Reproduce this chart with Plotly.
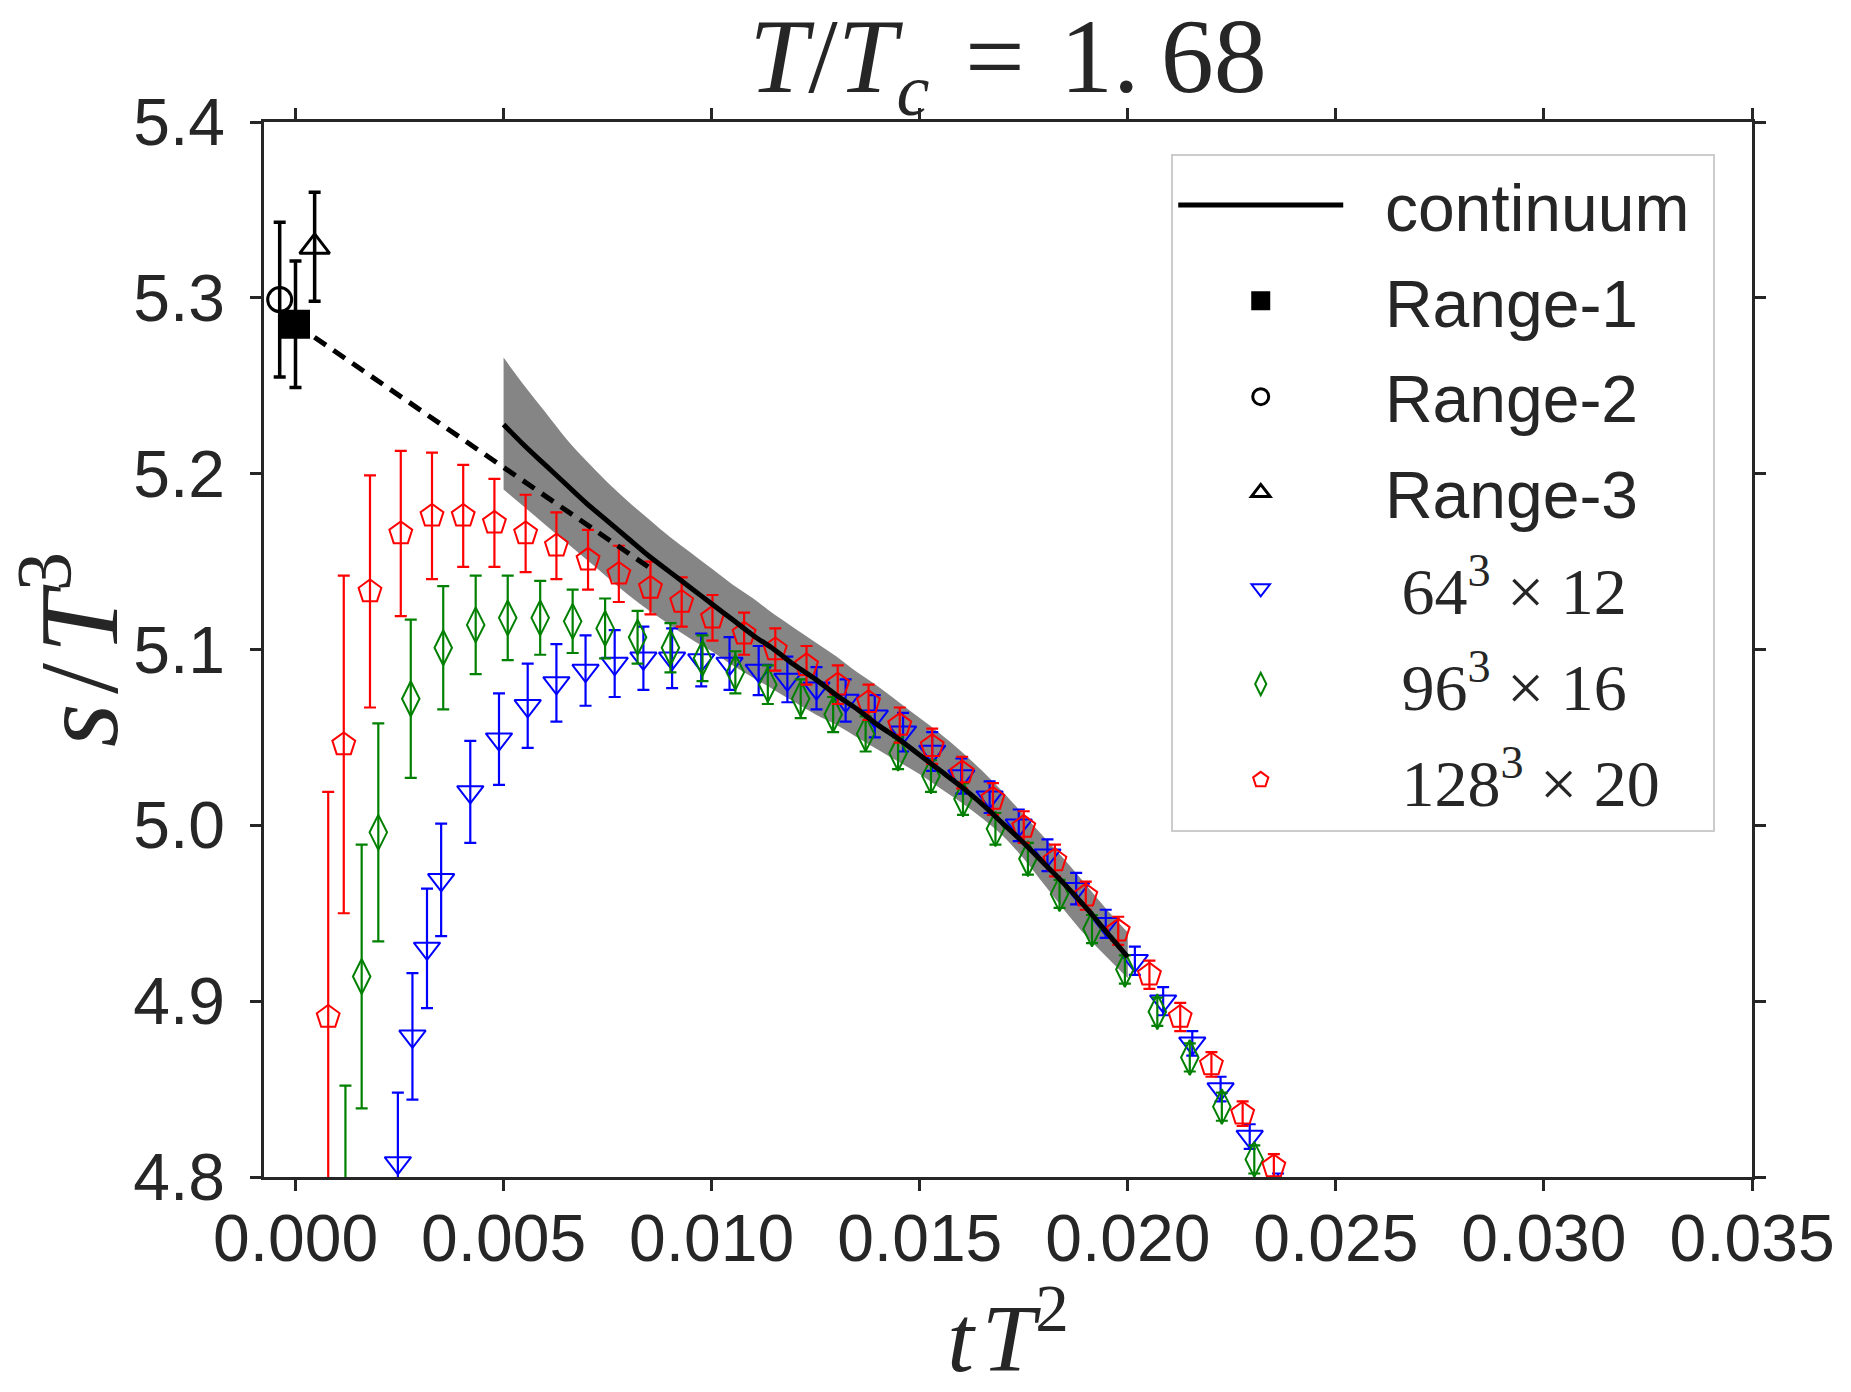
import plotly.graph_objects as go

# ---------------- data ----------------
# continuum-extrapolated t->0 results
range1_x = [0.0]
range1_y = [5.285]
range1_err = [0.036]
range2_x = [-0.00038]
range2_y = [5.299]
range2_err = [0.044]
range3_x = [0.00046]
range3_y = [5.329]
range3_err = [0.031]

# linear small-t extrapolation (dashed)
extrap_x = [0.0, 0.0086]
extrap_y = [5.285, 5.145]

# continuum curve and its error band
cont_x = [0.0050, 0.0055, 0.0060, 0.0065, 0.0070, 0.0075, 0.0080, 0.0085,
          0.0090, 0.0095, 0.0100, 0.0105, 0.0110, 0.0115, 0.0120, 0.0125,
          0.0130, 0.0135, 0.0140, 0.0145, 0.0150, 0.0155, 0.0160, 0.0165,
          0.0170, 0.0175, 0.0180, 0.0185, 0.0190, 0.0195, 0.0200]
cont_y = [5.228, 5.216, 5.205, 5.194, 5.183, 5.173, 5.163, 5.153,
          5.144, 5.135, 5.126, 5.117, 5.108, 5.100, 5.091, 5.083,
          5.074, 5.066, 5.057, 5.049, 5.040, 5.031, 5.022, 5.012,
          5.001, 4.990, 4.978, 4.966, 4.953, 4.939, 4.925]
cont_upper = [5.266, 5.250, 5.235, 5.220, 5.207, 5.195, 5.184, 5.174,
              5.164, 5.155, 5.146, 5.137, 5.129, 5.120, 5.112, 5.104,
              5.096, 5.087, 5.079, 5.070, 5.061, 5.052, 5.042, 5.031,
              5.019, 5.006, 4.993, 4.980, 4.966, 4.952, 4.939]
cont_lower = [5.191, 5.181, 5.171, 5.161, 5.151, 5.141, 5.131, 5.122,
              5.114, 5.106, 5.099, 5.091, 5.084, 5.077, 5.070, 5.063,
              5.057, 5.050, 5.043, 5.036, 5.029, 5.021, 5.013, 5.004,
              4.994, 4.981, 4.966, 4.951, 4.937, 4.925, 4.913]

# 64^3 x 12
n12_x = [0.00246, 0.00281, 0.00316, 0.00350, 0.00420, 0.00489, 0.00558, 0.00627,
         0.00697, 0.00767, 0.00836, 0.00905, 0.00975, 0.01043, 0.01113, 0.01182,
         0.01252, 0.01322, 0.01392, 0.01460, 0.01530, 0.01600, 0.01668, 0.01738,
         0.01807, 0.01876, 0.01947, 0.02017, 0.02085, 0.02155, 0.02223, 0.02293,
         0.02361]
n12_y = [4.808, 4.880, 4.930, 4.969, 5.019, 5.049, 5.068, 5.081,
         5.088, 5.092, 5.095, 5.095, 5.094, 5.092, 5.088, 5.083,
         5.078, 5.071, 5.062, 5.053, 5.042, 5.028, 5.016, 5.000,
         4.983, 4.964, 4.944, 4.923, 4.900, 4.876, 4.850, 4.823,
         4.795]
n12_err = [0.040, 0.036, 0.034, 0.032, 0.029, 0.026, 0.024, 0.022,
           0.020, 0.019, 0.018, 0.017, 0.015, 0.015, 0.014, 0.013,
           0.012, 0.012, 0.012, 0.011, 0.011, 0.010, 0.009, 0.009,
           0.009, 0.009, 0.008, 0.008, 0.008, 0.007, 0.007, 0.007,
           0.007]

# 96^3 x 16
n16_x = [0.00120, 0.00159, 0.00199, 0.00277, 0.00355, 0.00433, 0.00510, 0.00588,
         0.00666, 0.00744, 0.00822, 0.00901, 0.00978, 0.01057, 0.01135, 0.01214,
         0.01292, 0.01370, 0.01448, 0.01527, 0.01604, 0.01682, 0.01760, 0.01836,
         0.01914, 0.01993, 0.02071, 0.02149, 0.02226, 0.02304]
n16_y = [4.772, 4.914, 4.996, 5.072, 5.101, 5.114, 5.118, 5.118,
         5.116, 5.112, 5.107, 5.101, 5.095, 5.087, 5.080, 5.072,
         5.063, 5.052, 5.041, 5.028, 5.015, 4.998, 4.981, 4.961,
         4.941, 4.918, 4.894, 4.868, 4.840, 4.810]
n16_err = [0.080, 0.075, 0.062, 0.045, 0.035, 0.028, 0.024, 0.021,
           0.018, 0.017, 0.015, 0.014, 0.013, 0.012, 0.011, 0.011,
           0.010, 0.010, 0.009, 0.009, 0.009, 0.009, 0.009, 0.008,
           0.008, 0.008, 0.008, 0.008, 0.008, 0.008]

# 128^3 x 20
n20_x = [0.000786, 0.00116, 0.00179, 0.00253, 0.00328, 0.00403, 0.00478, 0.00553,
         0.00627, 0.00703, 0.00777, 0.00853, 0.00928, 0.01002, 0.01078, 0.01153,
         0.01228, 0.01303, 0.01377, 0.01452, 0.01530, 0.01602, 0.01676, 0.01750,
         0.01825, 0.01899, 0.01977, 0.02052, 0.02126, 0.02201, 0.02276, 0.02351]
n20_y = [4.891, 5.046, 5.133, 5.166, 5.176, 5.176, 5.172, 5.166,
         5.159, 5.151, 5.143, 5.135, 5.127, 5.118, 5.109, 5.100,
         5.091, 5.080, 5.070, 5.057, 5.045, 5.030, 5.015, 4.999,
         4.980, 4.960, 4.940, 4.915, 4.891, 4.864, 4.836, 4.806]
n20_err = [0.128, 0.096, 0.066, 0.047, 0.036, 0.029, 0.025, 0.022,
           0.019, 0.017, 0.016, 0.015, 0.014, 0.013, 0.012, 0.012,
           0.011, 0.011, 0.010, 0.010, 0.010, 0.009, 0.009, 0.009,
           0.009, 0.008, 0.008, 0.008, 0.008, 0.007, 0.007, 0.007]

x_ticks = [0.000, 0.005, 0.010, 0.015, 0.020, 0.025, 0.030, 0.035]
y_ticks = [4.8, 4.9, 5.0, 5.1, 5.2, 5.3, 5.4]

# ---------------- styling ----------------
INK = "#262626"
SANS = "Liberation Sans, Arial, sans-serif"
SERIF = "Liberation Serif, Times New Roman, serif"
PAD = "\u00a0\u00a0"


def serif(txt):
    return f"<span style=\"font-family:'Liberation Serif'\">{txt}</span>"


fig = go.Figure()

# error band of the continuum curve
fig.add_trace(go.Scatter(x=cont_x, y=cont_lower, mode="lines",
                         line=dict(width=0, color="#808080", shape="spline"),
                         showlegend=False, hoverinfo="skip"))
fig.add_trace(go.Scatter(x=cont_x, y=cont_upper, mode="lines",
                         line=dict(width=0, color="#808080", shape="spline"),
                         fill="tonexty", fillcolor="#858585",
                         showlegend=False, hoverinfo="skip"))


def lattice(x, y, err, color, symbol, size, name, rank):
    return go.Scatter(
        x=x, y=y, mode="markers", name=name, legendrank=rank,
        legendgroup=name,
        marker=dict(symbol=symbol, size=size, color=color,
                    line=dict(color=color, width=2)),
        error_y=dict(type="data", array=err, visible=True, color=color,
                     thickness=2.2, width=6),
    )


fig.add_trace(lattice(n12_x, n12_y, n12_err, "#0000ff", "triangle-down-open", 23,
                      PAD + serif("\u00a064<sup>3</sup> \u00d7 12"), 5))
fig.add_trace(lattice(n16_x, n16_y, n16_err, "#008000", "diamond-tall-open", 25,
                      PAD + serif("\u00a096<sup>3</sup> \u00d7 16"), 6))
fig.add_trace(lattice(n20_x, n20_y, n20_err, "#ff0000", "pentagon-open", 24,
                      PAD + serif("\u00a0128<sup>3</sup> \u00d7 20"), 7))

# continuum curve
fig.add_trace(go.Scatter(x=cont_x, y=cont_y, mode="lines",
                         name=PAD + "continuum\u00a0",
                         legendrank=1, legendgroup="cont",
                         line=dict(color="black", width=5, shape="spline")))
# dashed extrapolation
fig.add_trace(go.Scatter(x=extrap_x, y=extrap_y, mode="lines", showlegend=False,
                         line=dict(color="black", width=5, dash="14px,9px")))


def rng(x, y, err, symbol, size, name, rank):
    return go.Scatter(
        x=x, y=y, mode="markers", name=name, legendrank=rank, legendgroup=name,
        marker=dict(symbol=symbol, size=size, color="black",
                    line=dict(color="black", width=3)),
        error_y=dict(type="data", array=err, visible=True, color="black",
                     thickness=3.5, width=6),
        cliponaxis=False,
    )


fig.add_trace(rng(range1_x, range1_y, range1_err, "square", 26, PAD + "Range-1", 2))
fig.add_trace(rng(range2_x, range2_y, range2_err, "circle-open", 24, PAD + "Range-2", 3))
fig.add_trace(rng(range3_x, range3_y, range3_err, "triangle-up-open", 26, PAD + "Range-3", 4))

axis_common = dict(
    showline=True, linecolor=INK, linewidth=2.5, mirror="ticks",
    ticks="outside", ticklen=11, tickwidth=2.5, tickcolor=INK,
    showgrid=False, zeroline=False,
    tickfont=dict(family=SANS, size=66, color=INK),
)

fig.update_layout(
    width=1851, height=1392,
    margin=dict(l=264, r=99, t=122, b=215, autoexpand=False),
    paper_bgcolor="white", plot_bgcolor="white",
    title=dict(
        text="<i>T</i>/<i>T</i><sub><i>c</i></sub> \u200a=\u200a 1.\u200968",
        font=dict(family=SERIF, size=106, color=INK),
        x=0.5, xanchor="center", xref="paper",
        y=0.987, yanchor="top", yref="container",
    ),
    xaxis=dict(
        **axis_common,
        range=[-0.000757, 0.035],
        tickvals=x_ticks,
        ticktext=[f"{v:.3f}" for v in x_ticks],
        ticklabelstandoff=-9,
        title=dict(text="<i>t</i>\u200a<i>T</i><sup>2</sup>",
                   font=dict(family=SERIF, size=96, color=INK), standoff=0),
    ),
    yaxis=dict(
        **axis_common,
        range=[4.8, 5.4],
        tickvals=y_ticks,
        ticktext=[f"{v:.1f}" for v in y_ticks],
        ticklabelstandoff=12,
        title=dict(text="<i>s</i>\u200a/\u200a<i>T</i><sup>3</sup>",
                   font=dict(family=SERIF, size=112, color=INK), standoff=22),
    ),
    legend=dict(
        x=0.6097, y=0.970, xanchor="left", yanchor="top",
        bgcolor="white", bordercolor="#cccccc", borderwidth=2,
        font=dict(family=SANS, size=66, color=INK),
        itemwidth=165, tracegroupgap=7, traceorder="grouped",
        itemsizing="trace",
    ),
    showlegend=True,
)

fig.write_html("out.html")
